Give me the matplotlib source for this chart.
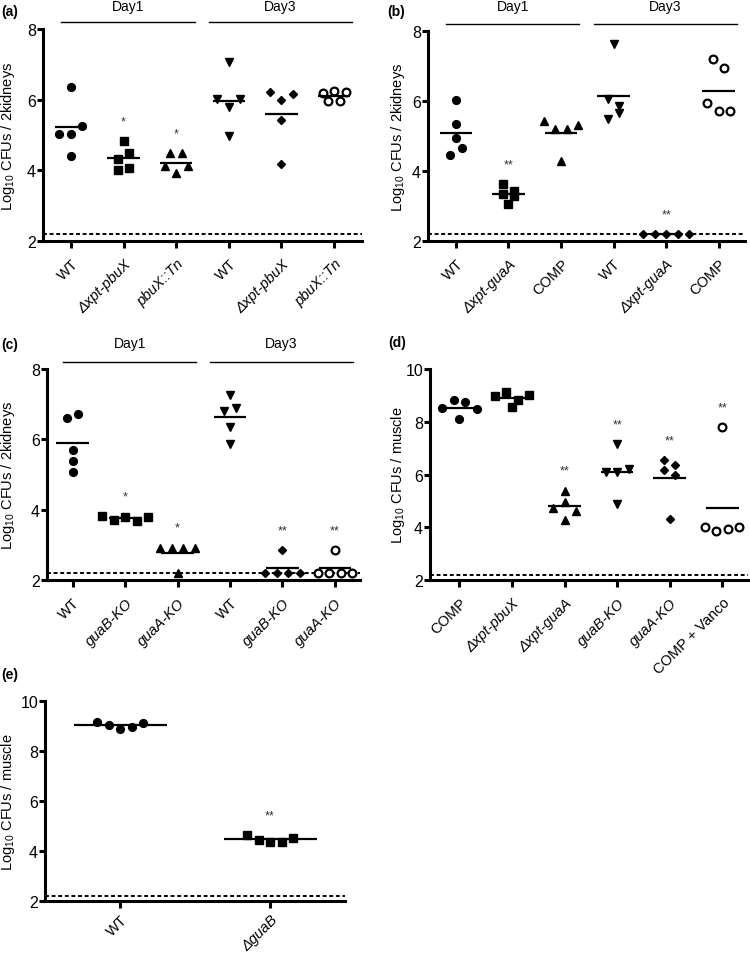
import numpy as np
import matplotlib
matplotlib.use('Agg')
import matplotlib.pyplot as plt

plt.rcParams['font.family'] = ['Liberation Sans', 'DejaVu Sans']
plt.rcParams['mathtext.fontset'] = 'custom'
plt.rcParams['mathtext.rm'] = 'Liberation Sans'

# (a) kidneys, pbuX mutants (Day1 then Day3)
a_labels = ['WT', 'Δxpt-pbuX', 'pbuX::Tn', 'WT', 'Δxpt-pbuX', 'pbuX::Tn']
a_wt1 = [6.37, 5.02, 5.02, 5.26, 4.41]
a_pbux1 = [4.83, 4.33, 4.50, 4.01, 4.06]
a_tn1 = [4.48, 4.48, 4.11, 3.92, 4.11]
a_wt3 = [7.07, 6.02, 5.80, 6.02, 4.96]
a_pbux3 = [6.23, 5.98, 6.16, 5.43, 4.17]
a_tn3 = [6.20, 6.25, 6.22, 5.95, 5.95]
a_stars = ['', '*', '*', '', '', '']

# (b) kidneys, guaA mutant
b_labels = ['WT', 'Δxpt-guaA', 'COMP', 'WT', 'Δxpt-guaA', 'COMP']
b_wt1 = [6.03, 5.35, 4.95, 4.46, 4.66]
b_guaa1 = [3.62, 3.43, 3.33, 3.29, 3.05]
b_comp1 = [5.43, 5.19, 5.19, 5.31, 4.30]
b_wt3 = [7.64, 6.05, 5.86, 5.48, 5.67]
b_guaa3 = [2.2, 2.2, 2.2, 2.2, 2.2]
b_comp3 = [7.19, 6.95, 5.93, 5.71, 5.71]
b_stars = ['', '**', '', '', '**', '']

# (c) kidneys, KO strains
c_labels = ['WT', 'guaB-KO', 'guaA-KO', 'WT', 'guaB-KO', 'guaA-KO']
c_wt1 = [6.62, 6.72, 5.70, 5.39, 5.08]
c_guab1 = [3.82, 3.70, 3.78, 3.68, 3.80]
c_guaa1 = [2.92, 2.92, 2.92, 2.92, 2.20]
c_wt3 = [7.26, 6.81, 6.88, 6.34, 5.86]
c_guab3 = [2.85, 2.2, 2.2, 2.2, 2.2]
c_guaa3 = [2.85, 2.2, 2.2, 2.2, 2.2]
c_stars = ['', '*', '*', '', '**', '**']

# (d) muscle
d_labels = ['COMP', 'Δxpt-pbuX', 'Δxpt-guaA', 'guaB-KO', 'guaA-KO', 'COMP + Vanco']
d_comp = [8.53, 8.81, 8.75, 8.48, 8.10]
d_pbux = [8.96, 9.11, 8.84, 9.01, 8.57]
d_guaa = [5.38, 4.72, 4.94, 4.62, 4.28]
d_guab_ko = [7.15, 6.11, 6.08, 6.20, 4.90]
d_guaa_ko = [6.54, 6.35, 6.16, 5.97, 4.30]
d_vanco = [7.80, 4.00, 3.86, 3.93, 4.01]
d_stars = ['', '', '**', '**', '**', '**']

# (e) muscle, guaB deletion
e_labels = ['WT', 'ΔguaB']
e_wt = [9.16, 9.03, 8.87, 8.97, 9.13]
e_guab = [4.64, 4.44, 4.37, 4.37, 4.53]
e_stars = ['', '**']

detection_limit = 2.2
roman = ['WT', 'COMP', 'COMP + Vanco']

W, H = 750, 954
fig = plt.figure(figsize=(W / 100, H / 100), dpi=100)

MK = {
    'o': dict(marker='o', ms=5.6, mfc='k', mec='k'),
    's': dict(marker='s', ms=5.2, mfc='k', mec='k'),
    '^': dict(marker='^', ms=6.4, mfc='k', mec='k'),
    'v': dict(marker='v', ms=6.4, mfc='k', mec='k'),
    'D': dict(marker='D', ms=4.2, mfc='k', mec='k'),
    'open': dict(marker='o', ms=5.6, mfc='white', mec='k', mew=1.6),
}


def swarm(vals, px_x, px_y, step=11.5, tol=9.0):
    # points closer than tol pixels share a row, laid side by side in data order
    vals = np.asarray(vals, float)
    offs = np.zeros(len(vals))
    order = np.argsort(-vals, kind='stable')
    i = 0
    while i < len(order):
        top = vals[order[i]]
        row = [order[i]]
        j = i + 1
        while j < len(order) and (top - vals[order[j]]) * px_y <= tol:
            row.append(order[j])
            j += 1
        row = sorted(row)
        n = len(row)
        for k, idx in enumerate(row):
            offs[idx] = (k - (n - 1) / 2) * step / px_x
        i = j
    return offs


def panel(rect, groups, labels, markers, stars, ymax, ylabel, xlim, ylab_px, day_px=None, xpad=6):
    l, r, t, b = rect
    ax = fig.add_axes([l / W, 1 - b / H, (r - l) / W, (b - t) / H])
    ax.set_xlim(*xlim)
    ax.set_ylim(2, ymax)
    px_x = (r - l) / (xlim[1] - xlim[0])
    px_y = (b - t) / (ymax - 2)
    for i, vals in enumerate(groups):
        xs = i + swarm(vals, px_x, px_y)
        ax.plot(xs, vals, ls='none', clip_on=False, zorder=3, **MK[markers[i]])
        m = np.mean(vals)
        ax.plot([i - 0.31, i + 0.31], [m, m], color='k', lw=1.6,
                solid_capstyle='butt', zorder=4, clip_on=False)
        if stars[i]:
            ax.text(i, max(vals) + 20 / px_y, stars[i], ha='center', va='center',
                    fontsize=9, color='#333333')
    ax.axhline(detection_limit, color='k', lw=1.4, ls=(0, (2, 1.4)), zorder=2)

    ax.spines[['top', 'right']].set_visible(False)
    for s in ['left', 'bottom']:
        ax.spines[s].set_linewidth(2.2)
    ax.set_yticks(np.arange(2, ymax + 1, 2))
    ax.tick_params(axis='y', width=2.2, length=4, labelsize=11.5, pad=1)
    ax.tick_params(axis='x', width=2.2, length=5, labelsize=10.5, pad=xpad)
    ax.set_xticks(range(len(labels)))
    ax.set_xticklabels(labels, rotation=45, ha='right', va='top', rotation_mode='anchor')
    for tl, lab in zip(ax.get_xticklabels(), labels):
        if lab not in roman:
            tl.set_fontstyle('italic')
    ax.set_ylabel(ylabel, fontsize=10.5)
    ax.yaxis.set_label_coords(ylab_px / (r - l), 0.5)

    if day_px:
        tr = ax.get_xaxis_transform()
        h = b - t
        for (x0, x1), name in zip([(-0.18, 2.35), (2.62, 5.34)], ['Day1', 'Day3']):
            ax.plot([x0, x1], [1 + 7 / h] * 2, transform=tr, color='k', lw=1.0, clip_on=False)
            ax.text((x0 + x1) / 2, 1 + day_px / h, name, transform=tr, ha='center',
                    va='baseline', fontsize=10)
    return ax


kid = 'Log$_{10}$ CFUs / 2kidneys'
mus = 'Log$_{10}$ CFUs / muscle'
mk6 = ['o', 's', '^', 'v', 'D', 'open']

panel((43, 362, 30, 242), [a_wt1, a_pbux1, a_tn1, a_wt3, a_pbux3, a_tn3], a_labels, mk6,
      a_stars, 8, kid, (-0.53, 5.53), -26, day_px=19)
panel((428, 745, 32, 242), [b_wt1, b_guaa1, b_comp1, b_wt3, b_guaa3, b_comp3], b_labels, mk6,
      b_stars, 8, kid, (-0.53, 5.5), -21, day_px=21)
panel((47, 360, 370, 581), [c_wt1, c_guab1, c_guaa1, c_wt3, c_guab3, c_guaa3], c_labels, mk6,
      c_stars, 8, kid, (-0.49, 5.48), -30, day_px=22)
panel((430, 748, 370, 581), [d_comp, d_pbux, d_guaa, d_guab_ko, d_guaa_ko, d_vanco], d_labels, mk6,
      d_stars, 10, mus, (-0.56, 5.49), -23)
panel((45, 345, 702, 902), [e_wt, e_guab], e_labels, ['o', 's'],
      e_stars, 10, mus, (-0.5, 1.5), -28, xpad=3)

for tag, x, y in [('(a)', 1, 12), ('(b)', 387, 12), ('(c)', 1, 345), ('(d)', 388, 343), ('(e)', 1, 675)]:
    fig.text(x / W, 1 - y / H, tag, fontsize=10, fontweight='bold', va='center')

fig.savefig('out.png', dpi=100)
